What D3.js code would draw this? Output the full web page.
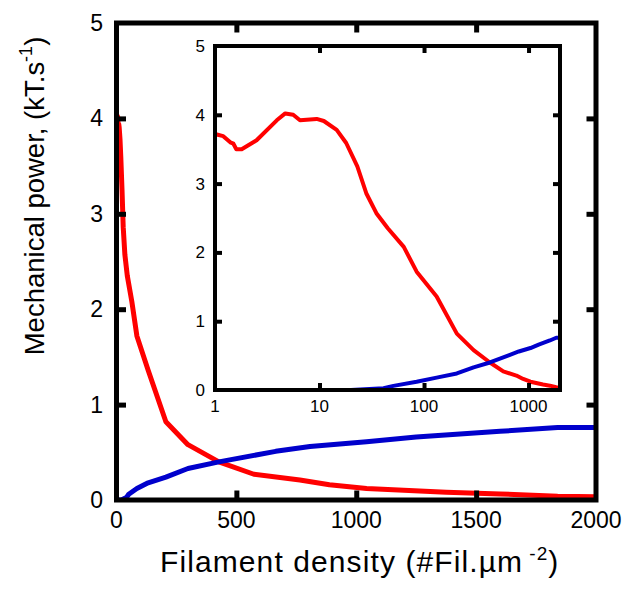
<!DOCTYPE html>
<html><head><meta charset="utf-8">
<script src="https://cdn.jsdelivr.net/npm/d3@7"></script>
<style>body{margin:0;background:#fff}svg{display:block}text{font-family:"Liberation Sans",Arial,sans-serif;fill:#000}</style>
</head><body>
<script>
// Data
const redDensity = [1, 1.2, 1.4, 1.5, 1.6, 1.8, 2.5, 3.9, 4.7, 5.6, 6.5, 9.4, 11, 14.6, 18, 23, 28, 35, 45, 64, 85, 132, 206, 298, 427, 573, 765, 888, 1043, 1375, 1600, 1840, 2000];
const redPower   = [3.72, 3.69, 3.60, 3.58, 3.50, 3.50, 3.63, 3.92, 4.02, 4.00, 3.92, 3.94, 3.91, 3.78, 3.59, 3.25, 2.86, 2.57, 2.35, 2.08, 1.72, 1.36, 0.82, 0.58, 0.40, 0.27, 0.21, 0.16, 0.12, 0.08, 0.063, 0.04, 0.035];
const blueDensity = [1, 10, 20, 41, 51, 85, 132, 206, 298, 427, 664, 807, 1043, 1250, 1600, 1840, 2000];
const bluePower   = [0, 0, 0, 0.025, 0.06, 0.12, 0.18, 0.24, 0.33, 0.40, 0.51, 0.56, 0.61, 0.66, 0.72, 0.76, 0.76];
const mainXTicks = [0, 500, 1000, 1500, 2000];
const yTicks = [0, 1, 2, 3, 4, 5];
const insetXTicks = [1, 10, 100, 1000];
const xLabel = "Filament density (#Fil.µm";
const xLabelSup = "-2";
const yLabel = "Mechanical power, (kT.s";
const yLabelSup = "-1";

const W = 630, H = 592;
const svg = d3.select("body").append("svg").attr("width", W).attr("height", H);

const red = "#ff0000", blue = "#0000cc";
const redSeries = redDensity.map((d, i) => [d, redPower[i]]);
const blueSeries = blueDensity.map((d, i) => [d, bluePower[i]]);

function panel(opts) {
  const {x, y, lw, frameW, tickW, tickLen, fs, xTicks, xFmt, labelGapX, labelGapY, id} = opts;
  const g = svg.append("g");
  const [xa, xb] = x.range(), [ya, yb] = y.range();
  g.append("rect").attr("x", xa).attr("y", yb).attr("width", xb - xa).attr("height", ya - yb).attr("fill", "#fff");
  g.append("clipPath").attr("id", id).append("rect").attr("x", xa).attr("y", yb).attr("width", xb - xa).attr("height", ya - yb);
  const line = d3.line().x(d => x(d[0])).y(d => y(d[1]));
  const cg = g.append("g").attr("clip-path", `url(#${id})`);
  cg.append("path").datum(redSeries).attr("d", line).attr("fill", "none").attr("stroke", red).attr("stroke-width", lw).attr("stroke-linejoin", "round");
  cg.append("path").datum(blueSeries).attr("d", line).attr("fill", "none").attr("stroke", blue).attr("stroke-width", lw).attr("stroke-linejoin", "round");
  const inner = xTicks.filter(t => x(t) > xa + 2 && x(t) < xb - 2);
  const innerY = yTicks.filter(t => y(t) < ya - 2 && y(t) > yb + 2);
  const styleAxis = a => { a.select(".domain").remove(); a.selectAll("line").attr("stroke", "#000").attr("stroke-width", tickW); a.selectAll("text").remove(); };
  g.append("g").attr("transform", `translate(0,${ya})`).call(d3.axisTop(x).tickValues(inner).tickSize(tickLen)).call(styleAxis);
  g.append("g").attr("transform", `translate(0,${yb})`).call(d3.axisBottom(x).tickValues(inner).tickSize(tickLen)).call(styleAxis);
  g.append("g").attr("transform", `translate(${xa},0)`).call(d3.axisRight(y).tickValues(innerY).tickSize(tickLen)).call(styleAxis);
  g.append("g").attr("transform", `translate(${xb},0)`).call(d3.axisLeft(y).tickValues(innerY).tickSize(tickLen)).call(styleAxis);
  g.append("rect").attr("x", xa).attr("y", yb).attr("width", xb - xa).attr("height", ya - yb).attr("fill", "none").attr("stroke", "#000").attr("stroke-width", frameW);
  g.append("g").selectAll("text").data(xTicks).join("text")
    .attr("x", d => x(d)).attr("y", ya + labelGapX).attr("text-anchor", "middle").attr("font-size", fs).text(xFmt);
  g.append("g").selectAll("text").data(yTicks).join("text")
    .attr("x", xa - labelGapY).attr("y", d => y(d)).attr("dy", "0.35em").attr("text-anchor", "end").attr("font-size", fs).text(d => d);
}

// main
const xMain = d3.scaleLinear().domain([0, 2000]).range([116.5, 596]);
const yMain = d3.scaleLinear().domain([0, 5]).range([500, 23]);
panel({x: xMain, y: yMain, lw: 5, frameW: 5, tickW: 5, tickLen: 9.5, fs: 23, xTicks: mainXTicks, xFmt: d => d, labelGapX: 28, labelGapY: 13.5, id: "cm"});

// inset
const xIn = d3.scaleLog().domain([1, 2000]).range([215, 560]);
const yIn = d3.scaleLinear().domain([0, 5]).range([390, 46]);
panel({x: xIn, y: yIn, lw: 4, frameW: 4, tickW: 4, tickLen: 7, fs: 17, xTicks: insetXTicks, xFmt: d => d, labelGapX: 22, labelGapY: 10, id: "ci"});

// axis titles
const xt = svg.append("text").attr("x", 160).attr("y", 572).attr("text-anchor", "start").attr("font-size", 30).attr("letter-spacing", 1.1);
xt.append("tspan").text(xLabel);
xt.append("tspan").attr("dy", -12).attr("font-size", 19).attr("dx", 6).text(xLabelSup);
xt.append("tspan").attr("dy", 12).text(")");

const yt = svg.append("text").attr("transform", "translate(44,196) rotate(-90)").attr("text-anchor", "middle").attr("font-size", 27.5);
yt.append("tspan").text(yLabel);
yt.append("tspan").attr("dy", -12).attr("font-size", 18).text(yLabelSup);
yt.append("tspan").attr("dy", 12).text(")");
</script>
</body></html>
